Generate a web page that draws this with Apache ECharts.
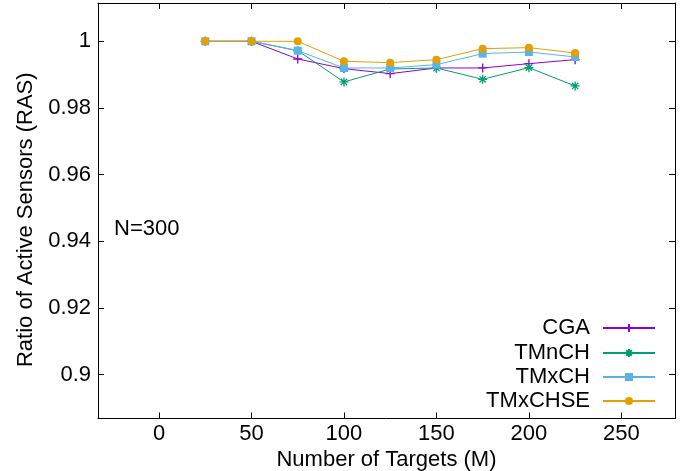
<!DOCTYPE html>
<html>
<head>
<meta charset="utf-8">
<script src="https://cdn.jsdelivr.net/npm/echarts@6/dist/echarts.min.js"></script>
<style>
html,body{margin:0;padding:0;background:#fff;}
#chart{width:689px;height:471px;}
</style>
</head>
<body>
<div id="chart"></div>
<script>
const xValues = [25, 50, 75, 100, 125, 150, 175, 200, 225];
const cga     = [1.0, 1.0, 0.9947, 0.9918, 0.9903, 0.9920, 0.9920, 0.9933, 0.9945];
const tmnch   = [1.0, 1.0, 0.9972, 0.9878, 0.9917, 0.9920, 0.9886, 0.9921, 0.9866];
const tmxch   = [1.0, 1.0, 0.9972, 0.9920, 0.9920, 0.9930, 0.9963, 0.9968, 0.9953];
const tmxchse = [1.0, 1.0, 1.0, 0.9940, 0.9936, 0.9945, 0.9978, 0.9981, 0.9965];
const xTicks = [0, 50, 100, 150, 200, 250];
const yTicks = [0.9, 0.92, 0.94, 0.96, 0.98, 1];
const seriesNames = ['CGA', 'TMnCH', 'TMxCH', 'TMxCHSE'];

const FONT = "'Liberation Sans', Arial, sans-serif";
const FS = 22;
const colors = ['#9400d3', '#009e73', '#56b4e9', '#e69f00'];
const symbols = [
  'path://M0,-1L0,1M-1,0L1,0',
  'path://M0,-1L0,1M-1,0L1,0M-0.7,-0.7L0.7,0.7M-0.7,0.7L0.7,-0.7',
  'rect',
  'circle'
];
const symSizes = [9, 9, 8, 8];
const dataSets = [cga, tmnch, tmxch, tmxchse];

const chart = echarts.init(document.getElementById('chart'));

const axisLine = {show: true, onZero: false, lineStyle: {color: '#000', width: 1}};
const axisTick = {show: true, inside: true, length: 6, lineStyle: {color: '#000', width: 1}};

const series = seriesNames.map((name, i) => ({
  name: name,
  type: 'line',
  data: xValues.map((x, j) => [x, dataSets[i][j]]),
  color: colors[i],
  symbol: symbols[i],
  symbolSize: symSizes[i],
  showAllSymbol: true,
  lineStyle: {width: 1, color: colors[i]},
  itemStyle: {color: colors[i], borderColor: colors[i], borderWidth: i < 2 ? 1.3 : 0},
  z: 2 + i,
  animation: false
}));

const legendRows = [329, 354, 378, 402];
const legends = seriesNames.map((name, i) => ({
  data: [name],
  orient: 'vertical',
  align: 'right',
  right: 33,
  top: legendRows[i] - 12,
  padding: 0,
  itemWidth: 52,
  itemHeight: 10,
  textStyle: {fontFamily: FONT, fontSize: FS, color: '#000', padding: [0, 8, 0, 0]},
  selectedMode: false
}));

chart.setOption({
  animation: false,
  backgroundColor: '#fff',
  textStyle: {fontFamily: FONT},
  grid: {left: 98, right: 14, top: 3, bottom: 52.5, containLabel: false, outerBoundsMode: 'none'},
  title: {
    text: 'N=300',
    left: 114,
    top: 218,
    padding: 0,
    textStyle: {fontFamily: FONT, fontSize: FS, fontWeight: 'normal', color: '#000'}
  },
  legend: legends,
  xAxis: [{
    type: 'value',
    position: 'bottom',
    min: -33,
    max: 279,
    name: 'Number of Targets (M)',
    nameLocation: 'middle',
    nameGap: 23.5,
    nameTextStyle: {fontFamily: FONT, fontSize: FS, color: '#000'},
    axisLine: axisLine,
    axisTick: Object.assign({customValues: xTicks}, axisTick),
    axisLabel: {customValues: xTicks, fontFamily: FONT, fontSize: FS, color: '#000', margin: 4},
    splitLine: {show: false}
  }, {
    type: 'value',
    position: 'top',
    min: -33,
    max: 279,
    axisLine: axisLine,
    axisTick: Object.assign({customValues: xTicks}, axisTick),
    axisLabel: {show: false},
    splitLine: {show: false}
  }],
  yAxis: [{
    type: 'value',
    position: 'left',
    min: 0.8868,
    max: 1.0115,
    name: 'Ratio of Active Sensors (RAS)',
    nameLocation: 'middle',
    nameGap: 60,
    nameTextStyle: {fontFamily: FONT, fontSize: FS, color: '#000', padding: [0, 18, 0, 0]},
    axisLine: axisLine,
    axisTick: Object.assign({customValues: yTicks}, axisTick),
    axisLabel: {customValues: yTicks, fontFamily: FONT, fontSize: FS, color: '#000', margin: 7,
      formatter: v => String(parseFloat(v.toFixed(4)))},
    splitLine: {show: false}
  }, {
    type: 'value',
    position: 'right',
    min: 0.8868,
    max: 1.0115,
    axisLine: axisLine,
    axisTick: Object.assign({customValues: yTicks}, axisTick),
    axisLabel: {show: false},
    splitLine: {show: false}
  }],
  series: series
});
</script>
</body>
</html>
